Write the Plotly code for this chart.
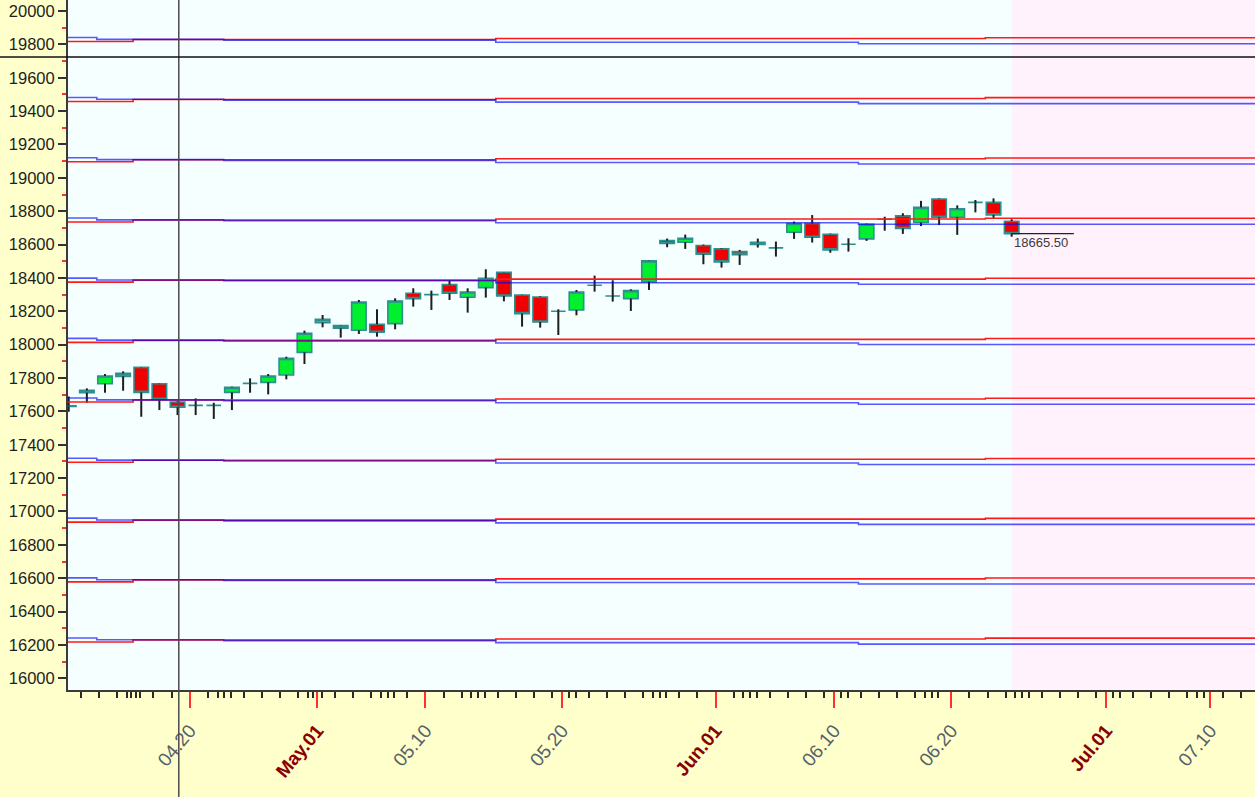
import datetime as dt
import plotly.graph_objects as go

# ---------------- data ----------------
candle_dates = [
    "2023-04-10", "2023-04-11", "2023-04-12", "2023-04-13", "2023-04-17", "2023-04-18",
    "2023-04-19", "2023-04-20", "2023-04-21", "2023-04-24", "2023-04-25", "2023-04-26",
    "2023-04-27", "2023-04-28", "2023-05-02", "2023-05-03", "2023-05-04", "2023-05-05",
    "2023-05-08", "2023-05-09", "2023-05-10", "2023-05-11", "2023-05-12", "2023-05-15",
    "2023-05-16", "2023-05-17", "2023-05-18", "2023-05-19", "2023-05-22", "2023-05-23",
    "2023-05-24", "2023-05-25", "2023-05-26", "2023-05-29", "2023-05-30", "2023-05-31",
    "2023-06-01", "2023-06-02", "2023-06-05", "2023-06-06", "2023-06-07", "2023-06-08",
    "2023-06-09", "2023-06-12", "2023-06-13", "2023-06-14", "2023-06-15", "2023-06-16",
    "2023-06-19", "2023-06-20", "2023-06-21", "2023-06-22", "2023-06-23",
]
opens = [17630, 17712, 17766, 17810, 17864, 17766, 17656, 17636, 17636, 17714, 17768, 17774,
         17818, 17954, 18132, 18114, 18086, 18122, 18126, 18308, 18300, 18360, 18284, 18342,
         18434, 18298, 18286, 18200, 18208, 18356, 18292, 18276, 18378, 18624, 18614, 18594,
         18574, 18558, 18614, 18580, 18674, 18726, 18662, 18602, 18634, 18752, 18772, 18732,
         18873, 18764, 18853, 18853, 18740]
highs = [17690, 17738, 17824, 17840, 17866, 17768, 17660, 17678, 17652, 17748, 17798, 17824,
         17928, 18084, 18178, 18116, 18268, 18212, 18278, 18338, 18324, 18382, 18338, 18452,
         18436, 18300, 18290, 18212, 18328, 18414, 18386, 18332, 18504, 18636, 18660, 18600,
         18578, 18568, 18636, 18618, 18738, 18777, 18666, 18638, 18726, 18767, 18788, 18862,
         18876, 18835, 18867, 18877, 18752]
lows = [17598, 17652, 17712, 17724, 17568, 17608, 17578, 17578, 17555, 17608, 17712, 17702,
        17792, 17884, 18104, 18042, 18064, 18048, 18092, 18228, 18208, 18268, 18192, 18282,
        18260, 18108, 18102, 18058, 18176, 18318, 18258, 18202, 18328, 18584, 18574, 18482,
        18462, 18478, 18582, 18528, 18634, 18612, 18551, 18558, 18622, 18683, 18664, 18711,
        18717, 18658, 18793, 18757, 18647]
closes = [17634, 17726, 17812, 17828, 17714, 17672, 17625, 17636, 17636, 17744, 17768, 17812,
          17918, 18068, 18152, 18098, 18256, 18074, 18262, 18276, 18300, 18308, 18316, 18398,
          18292, 18186, 18136, 18200, 18316, 18356, 18292, 18324, 18502, 18606, 18638, 18542,
          18496, 18540, 18600, 18580, 18726, 18644, 18568, 18602, 18722, 18752, 18696, 18823,
          18764, 18815, 18853, 18778, 18665.5]

# future (empty) trading days shown on the time axis
future_dates = [
    "2023-06-26", "2023-06-27", "2023-06-28", "2023-06-29", "2023-06-30",
    "2023-07-03", "2023-07-04", "2023-07-05", "2023-07-06", "2023-07-07",
    "2023-07-10", "2023-07-11", "2023-07-12", "2023-07-13",
]

# labelled date ticks
tick_dates = ["2023-04-20", "2023-05-01", "2023-05-10", "2023-05-20", "2023-06-01",
              "2023-06-10", "2023-06-20", "2023-07-01", "2023-07-10"]
tick_labels = ["04.20", "May.01", "05.10", "05.20", "Jun.01", "06.10", "06.20", "Jul.01", "07.10"]
month_labels = ["May.01", "Jun.01", "Jul.01"]

# horizontal level lines (price levels) and their step offsets over time
level_values = [16230, 16590, 16948, 17307, 17668, 18026, 18387, 18747, 19108, 19470, 19829]
red_step_dates = ["2023-04-10", "2023-04-17", "2023-05-16", "2023-06-22"]
red_step_offsets = [-12, 0, 6, 11]
blue_step_dates = ["2023-04-10", "2023-04-12", "2023-04-24", "2023-05-16", "2023-06-13"]
blue_step_offsets = [12, 1, -4, -16, -25]

crosshair_date = "2023-04-19"
crosshair_price = 19724

y_ticks = list(range(16000, 20001, 200))

# ---------------- time-axis mapping (trading-day slots) ----------------
D = lambda s: dt.date.fromisoformat(s)
trade_days = [D(s) for s in candle_dates + future_dates]
slot = {d: i for i, d in enumerate(trade_days)}
one = dt.timedelta(days=1)


def day_pos(d):
    if d in slot:
        return slot[d] - (0.33 if (d - one) in slot else 0.05)
    start = d
    while (start - one) not in slot:
        start -= one
    nxt = d
    while nxt not in slot:
        nxt += one
    n = (nxt - start).days
    j = (d - start).days
    return slot[nxt] - 0.79 + j * 0.74 / n


first, last = trade_days[0], trade_days[-1]
major_pos = [day_pos(D(s)) for s in tick_dates]
minor_pos = []
d = first + one
while d <= last:
    if d.isoformat() not in tick_dates:
        minor_pos.append(day_pos(d))
    d += one

ticktext = []
for lab in tick_labels:
    if lab in month_labels:
        ticktext.append("<b><span style='color:#8B0000'>%s</span></b>" % lab)
    else:
        ticktext.append(lab)

xs = [slot[D(s)] for s in candle_dates]
x_right = 65.42

# ---------------- figure ----------------
fig = go.Figure()

# wicks (upper and lower parts, so they never cross the bodies)
wx, wy = [], []
for x, o, h, l, c in zip(xs, opens, highs, lows, closes):
    top, bot = max(o, c), min(o, c)
    if h > top:
        wx += [x, x, None]
        wy += [top, h, None]
    if l < bot:
        wx += [x, x, None]
        wy += [l, bot, None]
fig.add_trace(go.Scatter(x=wx, y=wy, mode="lines", line=dict(color="#1E1E1E", width=2),
                         hoverinfo="skip", showlegend=False))


def step_xy(dates, offsets):
    px = [slot[D(s)] - 0.45 if i else -1 for i, s in enumerate(dates)] + [x_right + 1]
    return px, offsets + [offsets[-1]]


rx, roff = step_xy(red_step_dates, red_step_offsets)
bx, boff = step_xy(blue_step_dates, blue_step_offsets)
for lv in level_values:
    fig.add_trace(go.Scatter(x=rx, y=[lv + o for o in roff], mode="lines",
                             line=dict(color="#FF1A1A", width=1.6, shape="hv"),
                             hoverinfo="skip", showlegend=False))
for lv in level_values:
    fig.add_trace(go.Scatter(x=bx, y=[lv + o for o in boff], mode="lines",
                             line=dict(color="rgba(0,0,255,0.65)", width=1.6, shape="hv"),
                             hoverinfo="skip", showlegend=False))

# bodies
fig.add_trace(go.Candlestick(
    x=xs, open=opens, close=closes,
    high=[max(o, c) for o, c in zip(opens, closes)],
    low=[min(o, c) for o, c in zip(opens, closes)],
    increasing=dict(fillcolor="#00F030", line=dict(color="#2E8F8F", width=1.6)),
    decreasing=dict(fillcolor="#F00000", line=dict(color="#2E8F8F", width=1.6)),
    whiskerwidth=0, showlegend=False,
))

shapes = [
    dict(type="rect", xref="x", yref="paper", x0=xs[-1], x1=x_right + 1, y0=0, y1=1,
         fillcolor="#FFF2FD", line=dict(width=0), layer="below"),
    dict(type="line", xref="x", yref="paper", x0=slot[D(crosshair_date)] + 0.07,
         x1=slot[D(crosshair_date)] + 0.07, y0=-0.16, y1=1,
         line=dict(color="#4A4A4A", width=1.5)),
    dict(type="line", xref="paper", yref="y", x0=-0.06, x1=1, y0=crosshair_price,
         y1=crosshair_price, line=dict(color="#111111", width=1.5)),
    dict(type="line", xref="x", yref="y", x0=xs[-1], x1=xs[-1] + 3.43, y0=closes[-1],
         y1=closes[-1], line=dict(color="#222222", width=1.3)),
]

annotations = [
    dict(x=xs[-1], y=closes[-1], xref="x", yref="y", text="%.2f" % closes[-1],
         showarrow=False, xanchor="left", yanchor="top", xshift=0, yshift=1,
         font=dict(family="Liberation Sans, Arial", size=13, color="#3A3A3A")),
]

fig.update_layout(
    width=1255, height=797,
    margin=dict(l=68, r=0, t=0, b=107, pad=0),
    paper_bgcolor="#FFFFCC", plot_bgcolor="#F6FFFF",
    boxgap=0.2, boxgroupgap=0,
    shapes=shapes, annotations=annotations,
    showlegend=False, hovermode=False,
    font=dict(family="Liberation Sans, Arial"),
    xaxis=dict(
        range=[-0.04, x_right], showgrid=False, zeroline=False,
        showline=True, linecolor="#3A3A3A", linewidth=2,
        tickmode="array", tickvals=major_pos, ticktext=ticktext,
        ticks="outside", ticklen=16, tickwidth=1.5, tickcolor="#FF3030",
        tickangle=-50, tickfont=dict(size=19, color="#56606A"),
        ticklabelstandoff=4,
        minor=dict(tickmode="array", tickvals=minor_pos, ticks="outside",
                   ticklen=6, tickwidth=1.5, tickcolor="#2A2A2A"),
        rangeslider=dict(visible=False), fixedrange=True,
    ),
    yaxis=dict(
        range=[15930, 20066], showgrid=False, zeroline=False,
        showline=True, linecolor="#3A3A3A", linewidth=2,
        tickmode="array", tickvals=y_ticks, tickformat="d",
        ticks="outside", ticklen=8, tickwidth=1.5, tickcolor="#333333",
        tickfont=dict(size=16.5, color="#1E1E1E"),
        minor=dict(dtick=100, ticks="outside", ticklen=4, tickwidth=1.5,
                   tickcolor="#FF3030"),
        fixedrange=True,
    ),
)

fig.write_html("out.html", config={"displayModeBar": False},
               post_script="document.body.style.margin='0px';")
